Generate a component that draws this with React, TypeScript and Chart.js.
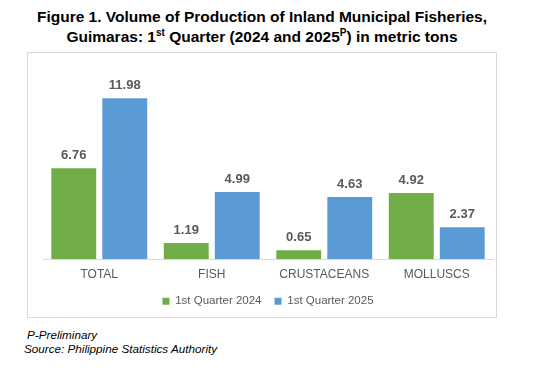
import React, { useEffect, useRef } from "react";
import { Chart, registerables } from "chart.js";

Chart.register(...registerables);

const categories = ["TOTAL", "FISH", "CRUSTACEANS", "MOLLUSCS"];
const q1_2024 = [6.76, 1.19, 0.65, 4.92];
const q1_2025 = [11.98, 4.99, 4.63, 2.37];
const seriesNames = ["1st Quarter 2024", "1st Quarter 2025"];

const FONT = "'Liberation Sans', Arial, sans-serif";

const valueLabels = {
  id: "valueLabels",
  afterDatasetsDraw(chart: any) {
    const ctx = chart.ctx;
    ctx.save();
    ctx.font = `bold 13px ${FONT}`;
    ctx.fillStyle = "#595959";
    ctx.textAlign = "center";
    ctx.textBaseline = "bottom";
    chart.data.datasets.forEach((ds: any, i: number) => {
      const meta = chart.getDatasetMeta(i);
      meta.data.forEach((bar: any, j: number) => {
        ctx.fillText(Number(ds.data[j]).toFixed(2), bar.x, bar.y - 6);
      });
    });
    ctx.restore();
  },
};

export default function App() {
  const ref = useRef<HTMLCanvasElement>(null);
  useEffect(() => {
    if (!ref.current) return;
    const chart = new Chart(ref.current, {
      type: "bar",
      data: {
        labels: categories,
        datasets: [
          { label: seriesNames[0], data: q1_2024, backgroundColor: "#70AD47" },
          { label: seriesNames[1], data: q1_2025, backgroundColor: "#5B9BD5" },
        ],
      },
      options: {
        animation: false,
        responsive: false,
        maintainAspectRatio: false,
        layout: { padding: { top: 18, left: 15, right: 3, bottom: 0 } },
        datasets: { bar: { categoryPercentage: 0.907, barPercentage: 0.88 } },
        scales: {
          x: {
            grid: { display: false, drawTicks: false },
            border: { display: true, color: "#d9d9d9", width: 1 },
            ticks: { color: "#595959", font: { family: FONT, size: 12 }, padding: 8 },
            afterFit: (scale: any) => {
              scale.height = scale.height - 7;
            },
          },
          y: {
            display: false,
            min: 0,
            max: 14,
          },
        },
        plugins: {
          legend: {
            position: "bottom",
            labels: {
              color: "#595959",
              font: { family: FONT, size: 11.5 },
              boxWidth: 7,
              boxHeight: 7,
              padding: 13,
            },
          },
          tooltip: { enabled: false },
        },
      },
      plugins: [valueLabels],
    });
    return () => chart.destroy();
  }, []);

  return (
    <div style={{ position: "absolute", left: 0, top: 0, width: 536, height: 383, background: "#fff", fontFamily: FONT }}>
      <div style={{ position: "absolute", left: 27, width: 470, top: 7, textAlign: "center", fontWeight: "bold", fontSize: 15.5, lineHeight: "20px", color: "#000" }}>
        Figure 1. Volume of Production of Inland Municipal Fisheries,
        <br />
        Guimaras: 1<sup style={{ fontSize: 10, lineHeight: 0 }}>st</sup> Quarter (2024 and 2025<sup style={{ fontSize: 10, lineHeight: 0 }}>P</sup>) in metric tons
      </div>
      <div style={{ position: "absolute", left: 27, top: 52, width: 468, height: 264, border: "1px solid #d9d9d9" }}>
        <canvas ref={ref} width={468} height={264} style={{ display: "block" }} />
      </div>
      <div style={{ position: "absolute", left: 27, top: 327, fontStyle: "italic", fontSize: 11.7, lineHeight: "15px", color: "#000" }}>
        P-Preliminary
      </div>
      <div style={{ position: "absolute", left: 24, top: 341, fontStyle: "italic", fontSize: 11.7, lineHeight: "15px", color: "#000" }}>
        Source: Philippine Statistics Authority
      </div>
    </div>
  );
}
